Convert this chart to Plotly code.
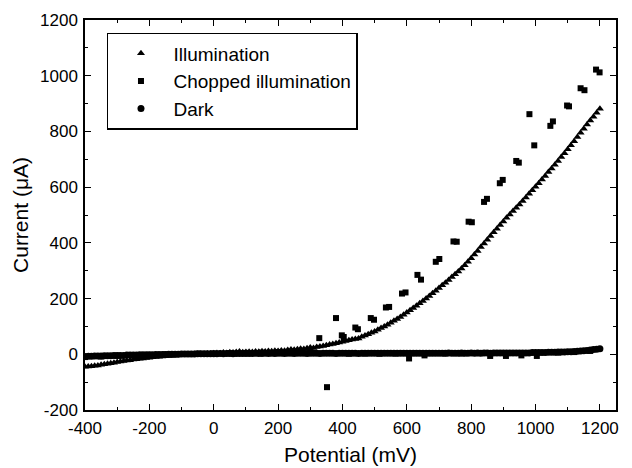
import plotly.graph_objects as go

# Potential sweep (mV) for continuous scans, 10 mV steps
potential = list(range(-400, 1201, 10))

illumination = [
    -45, -44, -43, -41, -40, -38, -36, -34, -32, -30, -28,
    -26, -24, -22, -21, -19, -18, -16, -15, -13, -12,
    -11, -10, -9, -8, -7, -6, -5, -4, -3, -2,
    -1, 0, 0, 1, 1, 2, 2, 3, 3, 4,
    5, 4, 6, 5, 7, 6, 8, 10, 7, 8,
    9, 8, 10, 9, 11, 10, 12, 11, 13, 12,
    14, 13, 15, 17, 16, 18, 20, 19, 22, 24,
    23, 26, 28, 30, 32, 35, 37, 40, 42, 45,
    48, 50, 53, 55, 57, 63, 67, 72, 77, 82,
    88, 94, 100, 106, 113, 120, 127, 134, 142, 150,
    158, 166, 174, 183, 191, 200, 209, 219, 228, 238,
    248, 257, 267, 277, 287, 297, 308, 320, 332, 345,
    358, 371, 385, 398, 411, 425, 438, 451, 464, 477,
    490, 502, 514, 526, 538, 550, 563, 576, 589, 601,
    614, 627, 640, 654, 667, 680, 694, 708, 722, 736,
    750, 765, 780, 795, 810, 825, 839, 853, 867, 881, 895,
]

dark = [
    -8, -7, -7, -6, -6, -6, -5, -5, -5, -4, -4,
    -4, -4, -3, -3, -3, -3, -2, -2, -2, -2,
    -2, -1, -1, -1, -1, 0, 0, 0, 0, 1,
    1, 1, 1, 1, 2, 2, 2, 2, 2, 2,
    2, 3, 2, 3, 3, 2, 3, 3, 3, 3,
    3, 3, 4, 3, 3, 4, 3, 4, 3, 4,
    4, 3, 4, 4, 3, 4, 4, 4, 3, 4,
    4, 4, 3, 4, 4, 4, 4, 3, 4, 4,
    4, 4, 4, 4, 3, 4, 4, 4, 4, 4,
    4, 4, 4, 4, 4, 4, 4, 4, 4, 4,
    4, 4, 4, 4, 4, 4, 4, 4, 4, 4,
    4, 4, 5, 4, 4, 4, 5, 4, 4, 5,
    4, 5, 4, 5, 5, 4, 5, 5, 5, 5,
    5, 5, 5, 5, 5, 5, 5, 5, 6, 6,
    6, 6, 6, 7, 7, 7, 8, 8, 8, 9,
    9, 10, 11, 12, 13, 14, 15, 17, 18, 20, 22,
]

chopped_potential = [
    -400, -350, -300, -250, -200, -150, -100, -50, 0, 50, 100, 150, 200, 250, 300,
    328, 352, 380, 398, 404, 420, 440, 448, 470, 488, 498, 515, 535, 545, 565,
    585, 596, 607, 633, 644, 655, 690, 701, 720, 745, 755, 770, 792, 802, 820,
    840, 849, 859, 889, 898, 908, 940, 948, 956, 981, 996, 1004, 1046, 1054,
    1070, 1098, 1104, 1120, 1140, 1152, 1170, 1188, 1199,
]
chopped = [
    -10, -8, -5, -3, -2, 0, 1, 2, 3, 4, 5, 6, 8, 10, 15,
    58, -118, 130, 68, 62, 2, 96, 90, 3, 130, 124, 2, 168, 170, 3,
    218, 222, -15, 285, 268, -4, 332, 342, 3, 405, 404, 3, 476, 474, 4,
    547, 558, -6, 614, 626, -6, 694, 688, -4, 862, 750, -6, 820, 836,
    6, 893, 890, 8, 955, 948, 12, 1022, 1012,
]

x_tick_vals = [-400, -200, 0, 200, 400, 600, 800, 1000, 1200]
x_tick_text = ["-400", "-200", "0", "200", "400", "600", "800", "1000", "1200"]
y_tick_vals = [-200, 0, 200, 400, 600, 800, 1000, 1200]
y_tick_text = ["-200", "0", "200", "400", "600", "800", "1000", "1200"]

TICK_FONT = dict(family="Liberation Sans, Arial", size=17, color="black")
TITLE_FONT = dict(family="Liberation Sans, Arial", size=21, color="black")

fig = go.Figure()
fig.add_trace(go.Scatter(
    x=potential, y=illumination, mode="markers", name="Illumination",
    marker=dict(symbol="triangle-up", size=7, color="black"),
))
fig.add_trace(go.Scatter(
    x=chopped_potential, y=chopped, mode="markers", name="Chopped illumination",
    marker=dict(symbol="square", size=6, color="black"),
))
fig.add_trace(go.Scatter(
    x=potential, y=dark, mode="markers", name="Dark",
    marker=dict(symbol="circle", size=7, color="black"),
))

axis_common = dict(
    showline=True, linecolor="black", linewidth=1.5, mirror="ticks",
    ticks="inside", ticklen=6, tickwidth=1.2, tickcolor="black",
    showgrid=False, zeroline=False, tickfont=TICK_FONT,
    minor=dict(ticks="inside", ticklen=3, tickwidth=1, tickcolor="black", dtick=100),
)

fig.update_xaxes(
    range=[-400, 1250], tickmode="array", tickvals=x_tick_vals, ticktext=x_tick_text,
    ticklabelstandoff=2,
    title=dict(text="Potential (mV)", font=TITLE_FONT, standoff=10),
    **axis_common,
)
fig.update_yaxes(
    range=[-200, 1200], tickmode="array", tickvals=y_tick_vals, ticktext=y_tick_text,
    ticklabelstandoff=2,
    title=dict(text="Current (\u03bcA)", font=TITLE_FONT, standoff=6),
    **axis_common,
)

# body has an 8px default margin in the page, so margins are offset to compensate
fig.update_layout(
    width=632, height=468,
    margin=dict(l=77, r=24, t=12, b=66, autoexpand=False),
    paper_bgcolor="white", plot_bgcolor="white",
    showlegend=True,
    legend=dict(
        x=0.0414, y=0.967, xanchor="left", yanchor="top",
        bgcolor="white", bordercolor="black", borderwidth=1.5,
        font=dict(family="Liberation Sans, Arial", size=19, color="black"),
        itemwidth=55, tracegroupgap=0,
    ),
)

fig.write_html("out.html")
